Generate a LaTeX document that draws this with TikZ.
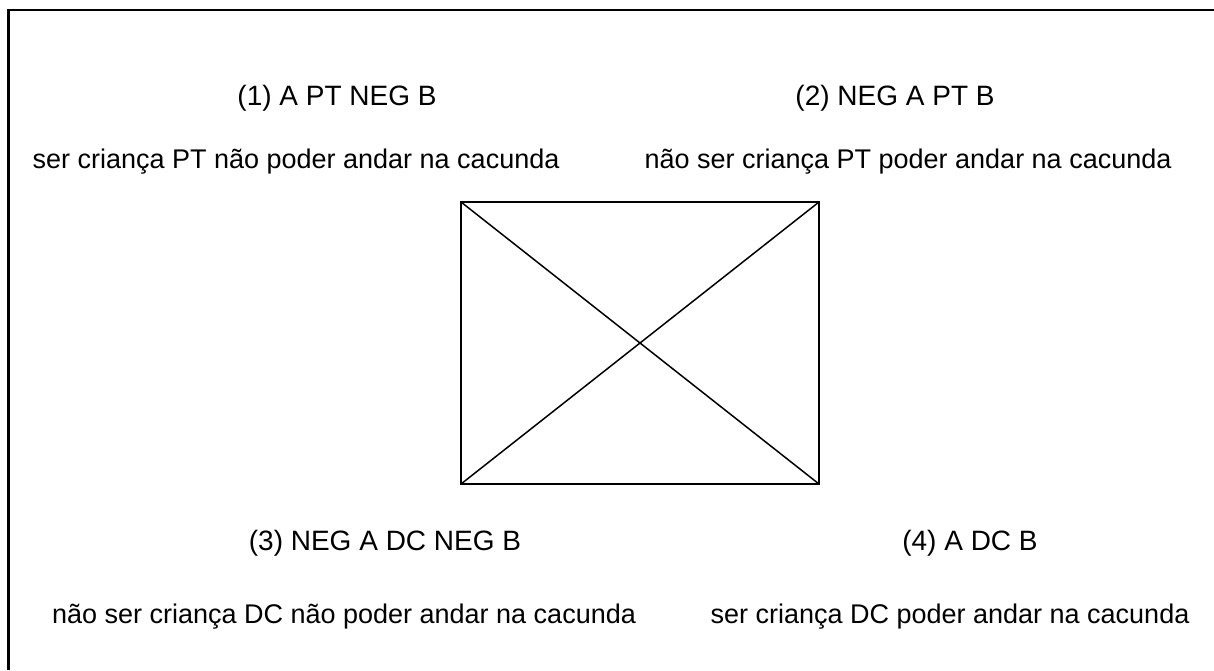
\documentclass[tikz,border=0pt]{standalone}
\usepackage{fontspec}
\setmainfont{Liberation Sans}
\begin{document}
\begin{tikzpicture}[x=1pt,y=-1pt,
  lbl/.style={anchor=base,inner sep=0pt,font=\fontsize{27}{32}\selectfont},
  ttl/.style={anchor=base,inner sep=0pt,font=\fontsize{28}{33}\selectfont},
  frameline/.style={line width=2.5pt},
  boxline/.style={line width=1.5pt}]
\useasboundingbox (0,0) rectangle (1214,670);
\draw[frameline] (8.5,670) -- (8.5,10) -- (1214,10);
% square of opposition
\coordinate (tl) at (461,202);
\coordinate (tr) at (819,202);
\coordinate (bl) at (461,484);
\coordinate (br) at (819,484);
\draw[boxline] (tl) -- (tr) -- (br) -- (bl) -- cycle;
\draw[boxline] (tl) -- (br);
\draw[boxline] (tr) -- (bl);
% labels
\node[ttl] (t1) at (337,105) {(1) A PT NEG B};
\node[lbl] (s1) at (296,168) {ser criança PT não poder andar na cacunda};
\node[ttl] (t2) at (895,105) {(2) NEG A PT B};
\node[lbl] (s2) at (908,168) {não ser criança PT poder andar na cacunda};
\node[ttl] (t3) at (385,550) {(3) NEG A DC NEG B};
\node[lbl] (s3) at (344,623) {não ser criança DC não poder andar na cacunda};
\node[ttl] (t4) at (970,550) {(4) A DC B};
\node[lbl] (s4) at (950,623) {ser criança DC poder andar na cacunda};
\end{tikzpicture}
\end{document}
